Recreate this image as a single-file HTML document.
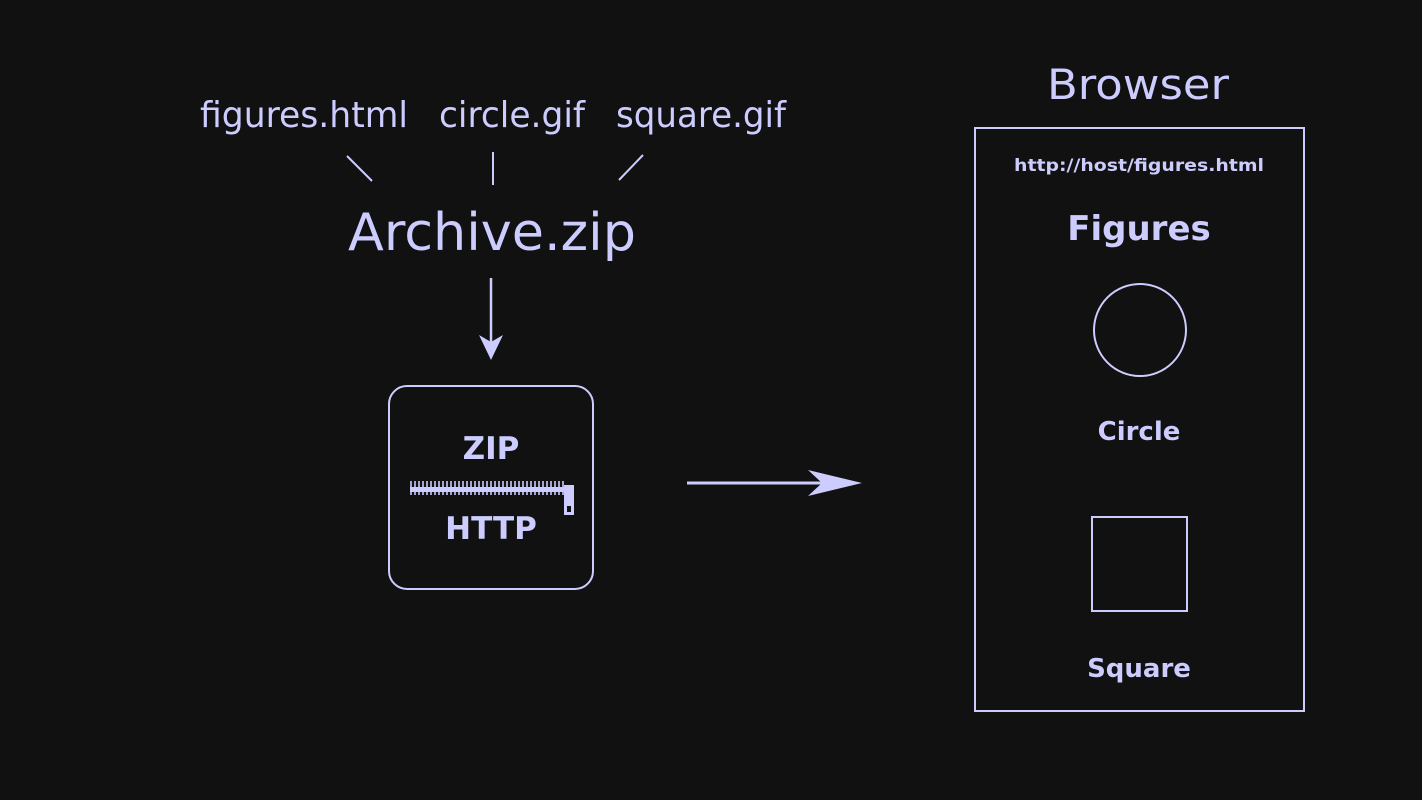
<!DOCTYPE html>
<html><head><meta charset="utf-8"><style>
html,body{margin:0;padding:0;background:#111111;}
svg{display:block;}
.h{font-family:"DejaVu Sans","Liberation Sans",sans-serif;fill:#ccccff;}
.b{font-family:"DejaVu Sans","Liberation Sans",sans-serif;font-weight:bold;fill:#ccccff;}
</style></head><body>
<svg width="1422" height="800" viewBox="0 0 1422 800" xmlns="http://www.w3.org/2000/svg">
<rect width="1422" height="800" fill="#111111"/>
<g stroke="#ccccff" stroke-width="2" fill="none">
<line x1="347" y1="156" x2="372" y2="181"/>
<line x1="493" y1="152" x2="493" y2="185"/>
<line x1="643" y1="155" x2="619" y2="180"/>
<line x1="491" y1="278" x2="491" y2="345" stroke-width="2.5"/>
<rect x="389" y="386" width="204" height="203" rx="18"/>
<line x1="687" y1="483" x2="840" y2="483" stroke-width="3"/>
<rect x="975" y="128" width="329" height="583"/>
<circle cx="1140" cy="330" r="46"/>
<rect x="1092" y="517" width="95" height="94"/>
</g>
<polygon points="479,335 491,360 503,335 491,342" fill="#ccccff"/>
<polygon points="808,470 862,483 808,496 822,483" fill="#ccccff"/>
<rect x="410" y="487" width="155" height="5" fill="#ccccff"/>
<g stroke="#ccccff" stroke-width="1.6">
<path d="M411,481v14M415,481v14M419,481v14M423,481v14M427,481v14M431,481v14M435,481v14M439,481v14M443,481v14M447,481v14M451,481v14M455,481v14M459,481v14M463,481v14M467,481v14M471,481v14M475,481v14M479,481v14M483,481v14M487,481v14M491,481v14M495,481v14M499,481v14M503,481v14M507,481v14M511,481v14M515,481v14M519,481v14M523,481v14M527,481v14M531,481v14M535,481v14M539,481v14M543,481v14M547,481v14M551,481v14M555,481v14M559,481v14M563,481v14"/>
</g>
<rect x="564" y="485" width="10" height="30" fill="#ccccff"/>
<rect x="567" y="506" width="4" height="6" fill="#111"/>
<text class="h" x="304" y="127" font-size="36" text-anchor="middle" textLength="208" lengthAdjust="spacingAndGlyphs">figures.html</text>
<text class="h" x="512" y="127" font-size="36" text-anchor="middle" textLength="146" lengthAdjust="spacingAndGlyphs">circle.gif</text>
<text class="h" x="701" y="127" font-size="36" text-anchor="middle" textLength="170" lengthAdjust="spacingAndGlyphs">square.gif</text>
<text class="h" x="492" y="250" font-size="52" text-anchor="middle" textLength="288" lengthAdjust="spacingAndGlyphs">Archive.zip</text>
<text class="h" x="1138" y="99" font-size="42" text-anchor="middle" textLength="182" lengthAdjust="spacingAndGlyphs">Browser</text>
<text class="b" x="491" y="459" font-size="31" text-anchor="middle">ZIP</text>
<text class="b" x="491" y="539" font-size="31" text-anchor="middle">HTTP</text>
<text class="b" x="1139" y="171" font-size="17" text-anchor="middle" textLength="250" lengthAdjust="spacingAndGlyphs">http://host/figures.html</text>
<text class="b" x="1139" y="240" font-size="34" text-anchor="middle">Figures</text>
<text class="b" x="1139" y="440" font-size="26" text-anchor="middle">Circle</text>
<text class="b" x="1139" y="677" font-size="26" text-anchor="middle">Square</text>
</svg>
</body></html>
